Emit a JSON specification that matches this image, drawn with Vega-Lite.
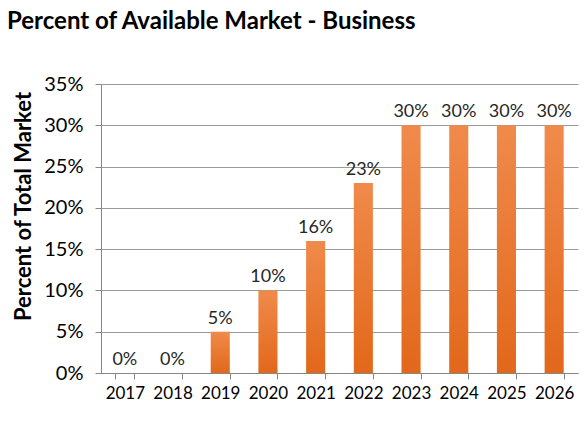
{
  "$schema": "https://vega.github.io/schema/vega-lite/v6.json",
  "width": 477,
  "height": 289,
  "autosize": {"type": "none"},
  "padding": {"left": 101, "top": 84, "right": 9, "bottom": 51},
  "background": "white",
  "title": {
    "text": "Percent of Available Market - Business",
    "anchor": "start",
    "frame": "group",
    "dx": -94,
    "font": "Lato",
    "fontSize": 24,
    "fontWeight": "bold",
    "color": "#000000",
    "offset": 40
  },
  "data": {
    "values": [
      {"year": "2017", "pct": 0},
      {"year": "2018", "pct": 0},
      {"year": "2019", "pct": 0.05},
      {"year": "2020", "pct": 0.10},
      {"year": "2021", "pct": 0.16},
      {"year": "2022", "pct": 0.23},
      {"year": "2023", "pct": 0.30},
      {"year": "2024", "pct": 0.30},
      {"year": "2025", "pct": 0.30},
      {"year": "2026", "pct": 0.30}
    ]
  },
  "encoding": {
    "x": {
      "field": "year",
      "type": "ordinal",
      "scale": {"paddingInner": 0.6, "paddingOuter": 0.3},
      "axis": {
        "title": null,
        "labelAngle": 0,
        "labelFont": "Lato",
        "labelFontSize": 17,
        "labelColor": "#000000",
        "labelPadding": 6,
        "domainColor": "#868686",
        "tickColor": "#868686",
        "tickBand": "extent",
        "tickSize": 6,
        "grid": false
      }
    },
    "y": {
      "field": "pct",
      "type": "quantitative",
      "scale": {"domain": [0, 0.35], "nice": false},
      "axis": {
        "title": "Percent of Total Market",
        "titleFont": "Lato",
        "titleFontSize": 22,
        "titleFontWeight": "bold",
        "titleColor": "#000000",
        "titlePadding": 8,
        "titleY": 122,
        "values": [0, 0.05, 0.1, 0.15, 0.2, 0.25, 0.3, 0.35],
        "format": ".0%",
        "labelFont": "Lato",
        "labelFontSize": 20,
        "labelColor": "#000000",
        "labelPadding": 12,
        "domainColor": "#868686",
        "tickColor": "#868686",
        "tickSize": 6,
        "gridColor": "#9A9A9A",
        "gridWidth": 1
      }
    }
  },
  "layer": [
    {
      "mark": {
        "type": "bar",
        "color": {
          "gradient": "linear",
          "x1": 0, "y1": 0, "x2": 0, "y2": 1,
          "stops": [
            {"offset": 0, "color": "#F08A4B"},
            {"offset": 1, "color": "#E2681A"}
          ]
        }
      }
    },
    {
      "mark": {"type": "text", "dy": -13, "font": "Lato", "fontSize": 18, "color": "#262626"},
      "encoding": {
        "text": {"field": "pct", "type": "quantitative", "format": ".0%"}
      }
    }
  ],
  "config": {"view": {"stroke": null}}
}
